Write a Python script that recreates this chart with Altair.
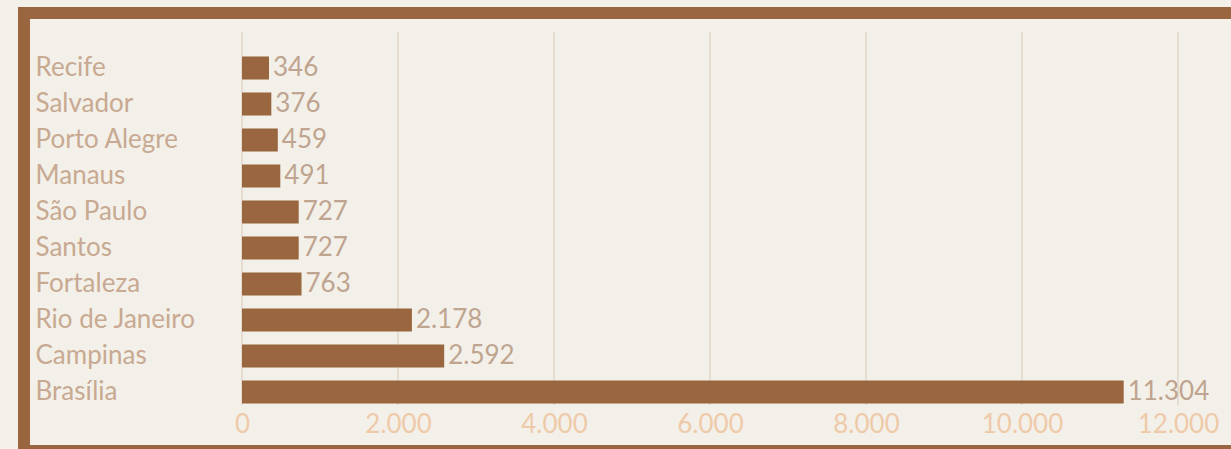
import altair as alt
import pandas as pd

# Cities (top to bottom) and their values
cities = ["Recife", "Salvador", "Porto Alegre", "Manaus", "São Paulo",
          "Santos", "Fortaleza", "Rio de Janeiro", "Campinas", "Brasília"]
values = [346, 376, 459, 491, 727, 727, 763, 2178, 2592, 11304]
x_ticks = [0, 2000, 4000, 6000, 8000, 10000, 12000]

df = pd.DataFrame({"cidade": cities, "valor": values})
df["rotulo"] = [f"{v:,}".replace(",", ".") for v in values]
grid_df = pd.DataFrame({"tick": x_ticks})

W, H = 936, 360
FONT = "Lato"
BROWN = "#9a663f"

x_scale = alt.Scale(domain=[0, 12000], nice=False, zero=True)
y_enc = alt.Y(
    "cidade:N", sort=cities, title=None,
    scale=alt.Scale(paddingInner=0.36, paddingOuter=0.18),
    axis=alt.Axis(labelAlign="left", labelPadding=207, ticks=False, domain=False,
                  labelFont=FONT, labelFontSize=26, labelColor="#c8a991", grid=False),
)

# vertical gridlines, extending a little above the first bar
grid = alt.Chart(grid_df).mark_rule(color="#d8c9bb", strokeWidth=1).encode(
    x=alt.X("tick:Q", scale=x_scale,
            axis=alt.Axis(values=x_ticks, labelExpr="replace(format(datum.value, ',d'), ',', '.')",
                          labelFont=FONT, labelFontSize=26, labelColor="#efcaa9",
                          labelFlush=False, labelOverlap=False,
                          ticks=False, domain=False, grid=False, labelPadding=1, title=None)),
    y=alt.value(-18),
    y2=alt.value(H - 5),
)

bars = alt.Chart(df).mark_bar(color=BROWN).encode(
    x=alt.X("valor:Q", scale=x_scale),
    y=y_enc,
)

labels = alt.Chart(df).mark_text(
    align="left", baseline="middle", dx=4, font=FONT, fontSize=26, color="#bfa48f"
).encode(
    x=alt.X("valor:Q", scale=x_scale),
    y=alt.Y("cidade:N", sort=cities),
    text="rotulo:N",
)

# decorative brown frame around the chart
frame = alt.Chart(pd.DataFrame({"k": [0]})).mark_rect(
    fill=None, stroke=BROWN, strokeWidth=12
).encode(
    x=alt.value(-218), x2=alt.value(1010),
    y=alt.value(-37), y2=alt.value(401),
)

chart = alt.layer(grid, bars, labels, frame).resolve_scale(x="shared").properties(
    width=W, height=H,
    autosize=alt.AutoSizeParams(type="none"),
    padding={"left": 242, "top": 50, "right": 53, "bottom": 39},
    background="#f3f0e9",
).configure_view(stroke=None)

chart.save("out.html", embed_options={"renderer": "svg", "actions": False})
